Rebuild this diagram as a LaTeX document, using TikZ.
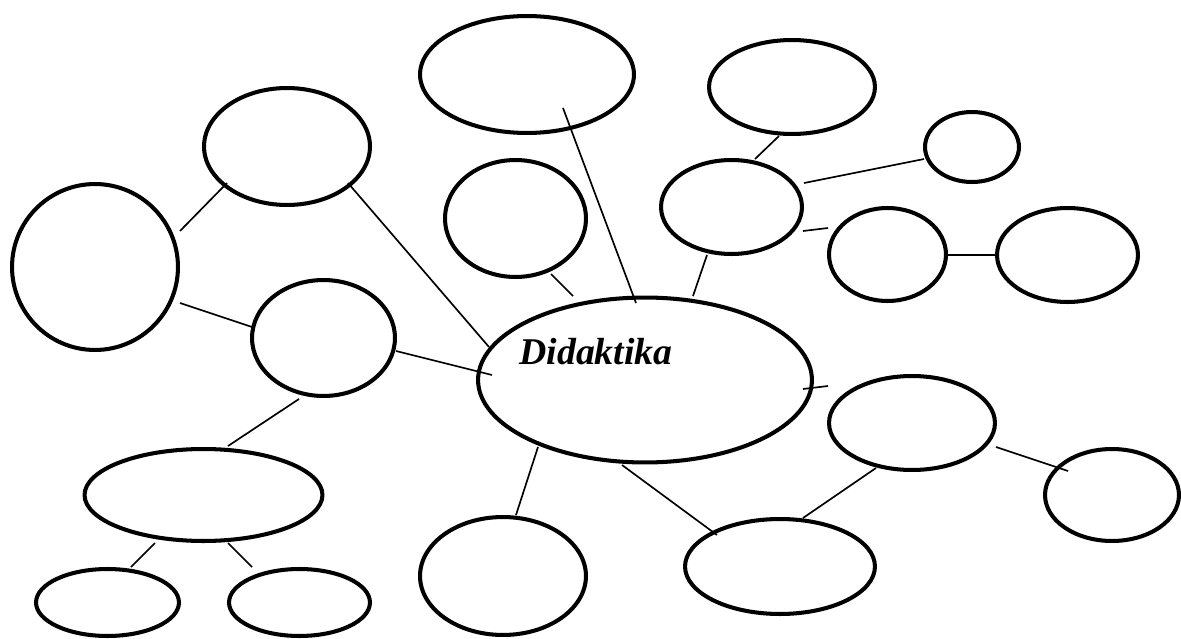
\documentclass[tikz,border=0pt]{standalone}
\usepackage{fontspec}
\setmainfont{Liberation Serif}
\usetikzlibrary{shapes.geometric,calc}
\tikzset{
  bub/.style 2 args={ellipse, draw=black, line width=2.3pt, inner sep=0pt, outer sep=0pt,
    minimum width=#1*0.04cm-0.08cm, minimum height=#2*0.04cm-0.08cm},
  link/.style={draw=black, line width=0.95pt},
  lbl/.style={font=\fontsize{21.5}{26}\selectfont\bfseries\itshape, inner sep=0pt, anchor=base west}
}
\begin{document}
\begin{tikzpicture}[x=0.02cm, y=-0.02cm]
\fill[white] (0,0) rectangle (1181,639);
\useasboundingbox (0,0) rectangle (1181,639);
% ellipses
\node[bub={109}{60.5}] (e1) at (527,74.5) {};
\node[bub={85}{49}] (e2) at (792,87) {};
\node[bub={49}{37}] (e3) at (972,147) {};
\node[bub={72.5}{49}] (e4) at (731.5,207) {};
\node[bub={60.5}{48.5}] (e5) at (887.5,254.5) {};
\node[bub={72.5}{49}] (e6) at (1067.5,255) {};
\node[bub={85}{60.5}] (e7) at (287,146.5) {};
\node[bub={85}{85}] (e8) at (95,267) {};
\node[bub={72.5}{60.5}] (e9) at (515.5,218.5) {};
\node[bub={73.5}{60}] (e10) at (323.5,338) {};
\node[bub={169}{84.5}] (c) at (645,380) {};
\node[bub={85}{49}] (e12) at (912,423) {};
\node[bub={69}{48}] (e13) at (1112,495) {};
\node[bub={121}{48}] (e14) at (203.5,495) {};
\node[bub={73.5}{35.5}] (e15) at (107.5,602.5) {};
\node[bub={72.5}{35.5}] (e16) at (299.5,602.5) {};
\node[bub={85}{61}] (e17) at (503,576) {};
\node[bub={97}{49.5}] (e18) at (780,566.5) {};
% label
\node[lbl] (t) at (519,364) {Didaktika};
% connectors
\draw[link] ($(e8)+(85,-36)$) -- ($(e7)+(-60,36.5)$);
\draw[link] ($(e8)+(85,36)$) -- ($(e10)+(-71.5,-11)$);
\draw[link] ($(e7)+(61,36.5)$) -- ($(c)+(-156,-33)$);
\draw[link] ($(e10)+(72.5,13)$) -- ($(c)+(-153,-5)$);
\draw[link] ($(e10)+(-24.5,61)$) -- ($(e14)+(24.5,-49)$);
\draw[link] ($(e14)+(-48.5,48)$) -- ($(e15)+(23.5,-35.5)$);
\draw[link] ($(e14)+(24.5,48)$) -- ($(e16)+(-47.5,-35.5)$);
\draw[link] ($(e9)+(35.5,55.5)$) -- ($(c)+(-72,-84)$);
\draw[link] ($(e1)+(36,33.5)$) -- ($(c)+(-9,-77)$);
\draw[link] ($(e4)+(-24.5,48)$) -- ($(c)+(48,-84)$);
\draw[link] ($(e4)+(23.5,-48)$) -- ($(e2)+(-13,49)$);
\draw[link] ($(e4)+(72.5,-24)$) -- ($(e3)+(-48,12)$);
\draw[link] ($(e4)+(71.5,24)$) -- ($(e5)+(-59.5,-26.5)$);
\draw[link] ($(e5)+(60.5,0.5)$) -- ($(e6)+(-72.5,0)$);
\draw[link] ($(c)+(158,9)$) -- ($(e12)+(-84,-37)$);
\draw[link] ($(e12)+(84,24)$) -- ($(e13)+(-44,-24)$);
\draw[link] ($(e12)+(-36,45)$) -- ($(e18)+(23,-48.5)$);
\draw[link] ($(c)+(-107,67)$) -- ($(e17)+(13,-61)$);
\draw[link] ($(c)+(-23,85)$) -- ($(e18)+(-63,-31.5)$);
\end{tikzpicture}
\end{document}
